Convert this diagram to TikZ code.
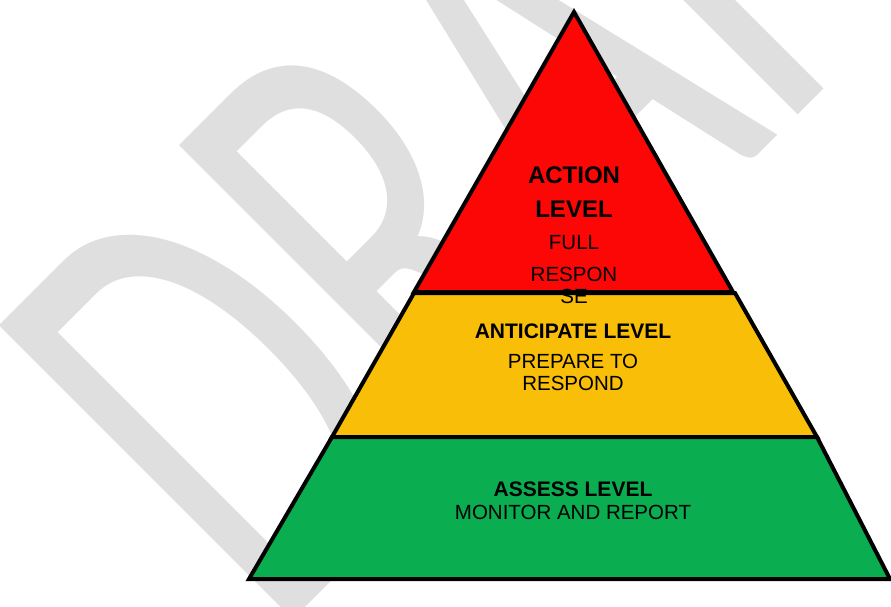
\documentclass[tikz,border=0pt]{standalone}
\usepackage{fontspec}
\setmainfont{Liberation Sans}
\newfontfamily\wmfont{Carlito}
\usepackage{tikz}
\usetikzlibrary{calc}

\definecolor{actionred}{HTML}{FC0606}
\definecolor{anticgold}{HTML}{F9BE08}
\definecolor{assessgreen}{HTML}{0AAD50}
\definecolor{draftgray}{HTML}{DFDFDF}

\tikzset{
	tier/.style={draw=black, line width=4pt, line join=miter},
	lvlhead/.style={font=\bfseries\fontsize{21}{25}\selectfont, inner sep=0pt, anchor=base},
	lvlnote/.style={font=\fontsize{20.5}{24}\selectfont, inner sep=0pt, anchor=base},
	draftmark/.style={font=\wmfont\fontsize{648}{660}\selectfont, text=draftgray, inner sep=0pt, anchor=base west}
}

\begin{document}
\begin{tikzpicture}[x=1pt, y=1pt]
	\useasboundingbox (0,0) rectangle (891,-606);

	% watermark
	\begin{scope}
		\clip (0,0) rectangle (891,-606);
		\node[draftmark, rotate=45, xscale=0.635] (draft) at (273,-639.5) {DRAFT};
	\end{scope}

	\coordinate (apex) at (574,-12);
	\coordinate (RL) at (414,-292);
	\coordinate (RR) at (733,-292);
	\coordinate (YTL) at (414,-293);
	\coordinate (YTR) at (735,-293);
	\coordinate (YBL) at (332,-437);
	\coordinate (YBR) at (817,-437);
	\coordinate (GBL) at (249,-579);
	\coordinate (GBR) at (890,-579);

	\draw[tier, fill=actionred] (apex) -- (RL) -- (RR) -- cycle;
	\draw[tier, fill=anticgold] (YTL) -- (YTR) -- (YBR) -- (YBL) -- cycle;
	\draw[tier, fill=assessgreen] (YBL) -- (YBR) -- (GBR) -- (GBL) -- cycle;

	% action level
	\node[lvlhead, font=\bfseries\fontsize{24}{28}\selectfont] (action) at (574,-183) {ACTION};
	\node[lvlhead, font=\bfseries\fontsize{24}{28}\selectfont] (actionlvl) at (574,-217) {LEVEL};
	\node[lvlnote] (full) at (574,-249) {FULL};
	\node[lvlnote] (respon) at (574,-281) {RESPON};
	\node[lvlnote] (se) at (574,-303) {SE};

	% anticipate level
	\node[lvlhead] (anticipate) at (573,-338) {ANTICIPATE LEVEL};
	\node[lvlnote] (prepare) at (573,-368) {PREPARE TO};
	\node[lvlnote] (respond) at (573,-390) {RESPOND};

	% assess level
	\node[lvlhead] (assess) at (573,-496) {ASSESS LEVEL};
	\node[lvlnote] (monitor) at (573,-519) {MONITOR AND REPORT};
\end{tikzpicture}
\end{document}
